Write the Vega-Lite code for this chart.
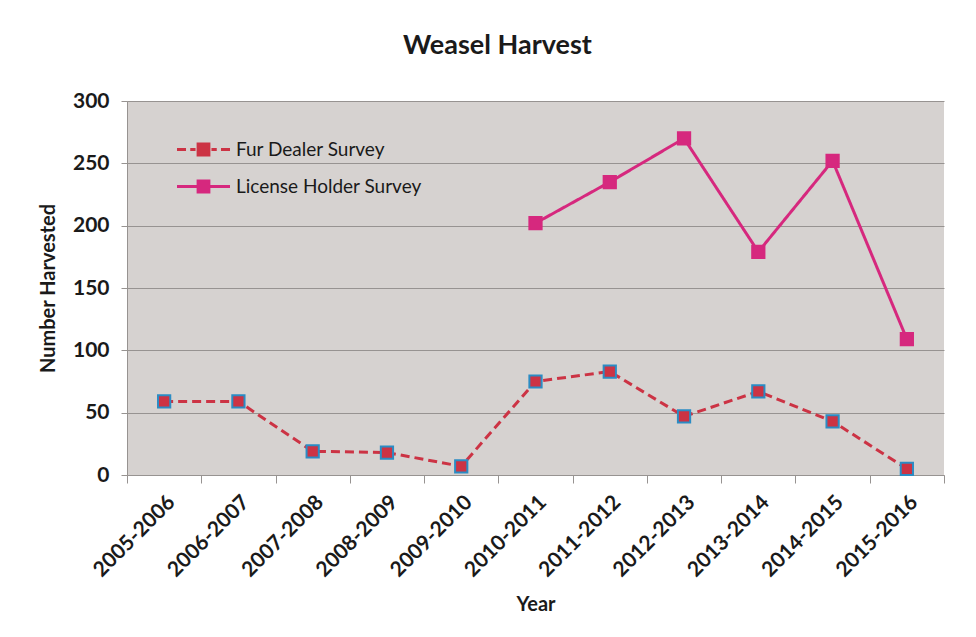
{
  "$schema": "https://vega.github.io/schema/vega-lite/v6.json",
  "width": 817,
  "height": 374,
  "autosize": {"type": "none"},
  "padding": {"left": 127, "top": 101, "right": 32, "bottom": 162},
  "background": "#ffffff",
  "config": {
    "font": "Lato",
    "view": {"fill": "#d6d2d0", "stroke": null},
    "axis": {"labelFont": "Lato", "titleFont": "Lato", "labelColor": "#1a1a1a", "titleColor": "#1a1a1a", "labelFontWeight": "bold"}
  },
  "title": {
    "text": "Weasel Harvest",
    "fontSize": 27,
    "fontWeight": "bold",
    "font": "Lato",
    "color": "#1a1a1a",
    "offset": 30,
    "dx": -38
  },
  "data": {
    "values": [
      {"year": "2005-2006", "series": "Fur Dealer Survey", "value": 59},
      {"year": "2006-2007", "series": "Fur Dealer Survey", "value": 59},
      {"year": "2007-2008", "series": "Fur Dealer Survey", "value": 19},
      {"year": "2008-2009", "series": "Fur Dealer Survey", "value": 18},
      {"year": "2009-2010", "series": "Fur Dealer Survey", "value": 7},
      {"year": "2010-2011", "series": "Fur Dealer Survey", "value": 75},
      {"year": "2011-2012", "series": "Fur Dealer Survey", "value": 83},
      {"year": "2012-2013", "series": "Fur Dealer Survey", "value": 47},
      {"year": "2013-2014", "series": "Fur Dealer Survey", "value": 67},
      {"year": "2014-2015", "series": "Fur Dealer Survey", "value": 43},
      {"year": "2015-2016", "series": "Fur Dealer Survey", "value": 5},
      {"year": "2010-2011", "series": "License Holder Survey", "value": 202},
      {"year": "2011-2012", "series": "License Holder Survey", "value": 235},
      {"year": "2012-2013", "series": "License Holder Survey", "value": 270},
      {"year": "2013-2014", "series": "License Holder Survey", "value": 179},
      {"year": "2014-2015", "series": "License Holder Survey", "value": 252},
      {"year": "2015-2016", "series": "License Holder Survey", "value": 109}
    ]
  },
  "encoding": {
    "y": {
      "field": "value",
      "type": "quantitative",
      "scale": {"domain": [0, 300]},
      "axis": {
        "title": "Number Harvested",
        "titleFontSize": 20,
        "titleFontWeight": "bold",
        "titlePadding": 14,
        "labelFontSize": 21,
        "labelPadding": 12,
        "values": [0, 50, 100, 150, 200, 250, 300],
        "gridColor": "#979391",
        "gridWidth": 1,
        "domainColor": "#979391",
        "tickColor": "#979391",
        "tickSize": 6
      }
    }
  },
  "layer": [
    {
      "mark": {"type": "line", "strokeWidth": 3},
      "encoding": {
        "x": {
          "field": "year",
          "type": "nominal",
          "sort": null,
          "scale": {"type": "band", "paddingInner": 0, "paddingOuter": 0},
          "bandPosition": 0.5,
          "axis": {
            "title": "Year",
            "titleFontSize": 20,
            "titleFontWeight": "bold",
            "titlePadding": 14,
            "labelAngle": -45,
            "labelFontSize": 21,
            "labelAlign": "right",
            "labelBaseline": "top",
            "labelPadding": 16,
            "labelLimit": 300,
            "ticks": false,
            "grid": false,
            "domainColor": "#979391"
          }
        },
        "color": {
          "field": "series",
          "type": "nominal",
          "scale": {"domain": ["Fur Dealer Survey", "License Holder Survey"], "range": ["#cc3344", "#d6287e"]},
          "legend": {
            "title": null,
            "orient": "none",
            "legendX": 50,
            "legendY": 22,
            "labelFontSize": 19,
            "labelColor": "#1a1a1a",
            "labelFont": "Lato",
            "labelOffset": 6,
            "labelLimit": 400,
            "rowPadding": -15,
            "symbolType": "M-1,-0.057H1V0.057H-1Z M-0.26,-0.26H0.26V0.26H-0.26Z",
            "symbolSize": 2809,
            "symbolStrokeWidth": 0,
            "encode": {
              "symbols": {
                "update": {
                  "shape": {"signal": "datum.value === 'Fur Dealer Survey' ? 'M-1,-0.06H-0.66V0.06H-1Z M-0.5,-0.06H-0.3V0.06H-0.5Z M-0.26,-0.26H0.26V0.26H-0.26Z M0.3,-0.06H0.5V0.06H0.3Z M0.66,-0.06H1V0.06H0.66Z' : 'M-1,-0.057H1V0.057H-1Z M-0.26,-0.26H0.26V0.26H-0.26Z'"}
                }
              }
            }
          }
        },
        "strokeDash": {
          "field": "series",
          "type": "nominal",
          "scale": {"domain": ["Fur Dealer Survey", "License Holder Survey"], "range": [[9, 5], [1, 0]]},
          "legend": null
        }
      }
    },
    {
      "mark": {"type": "point", "shape": "square", "filled": true, "size": 150, "strokeWidth": 2, "opacity": 1},
      "encoding": {
        "x": {
          "field": "year",
          "type": "nominal",
          "sort": null,
          "bandPosition": 0.5,
          "axis": {
            "orient": "bottom",
            "title": null,
            "labels": false,
            "ticks": true,
            "tickBand": "extent",
            "tickSize": 8,
            "tickColor": "#979391",
            "domain": false,
            "grid": false
          }
        },
        "color": {"field": "series", "type": "nominal"},
        "stroke": {
          "field": "series",
          "type": "nominal",
          "scale": {"domain": ["Fur Dealer Survey", "License Holder Survey"], "range": ["#2b8cc4", "#d6287e"]},
          "legend": null
        }
      }
    }
  ],
  "resolve": {"axis": {"x": "independent"}}
}
